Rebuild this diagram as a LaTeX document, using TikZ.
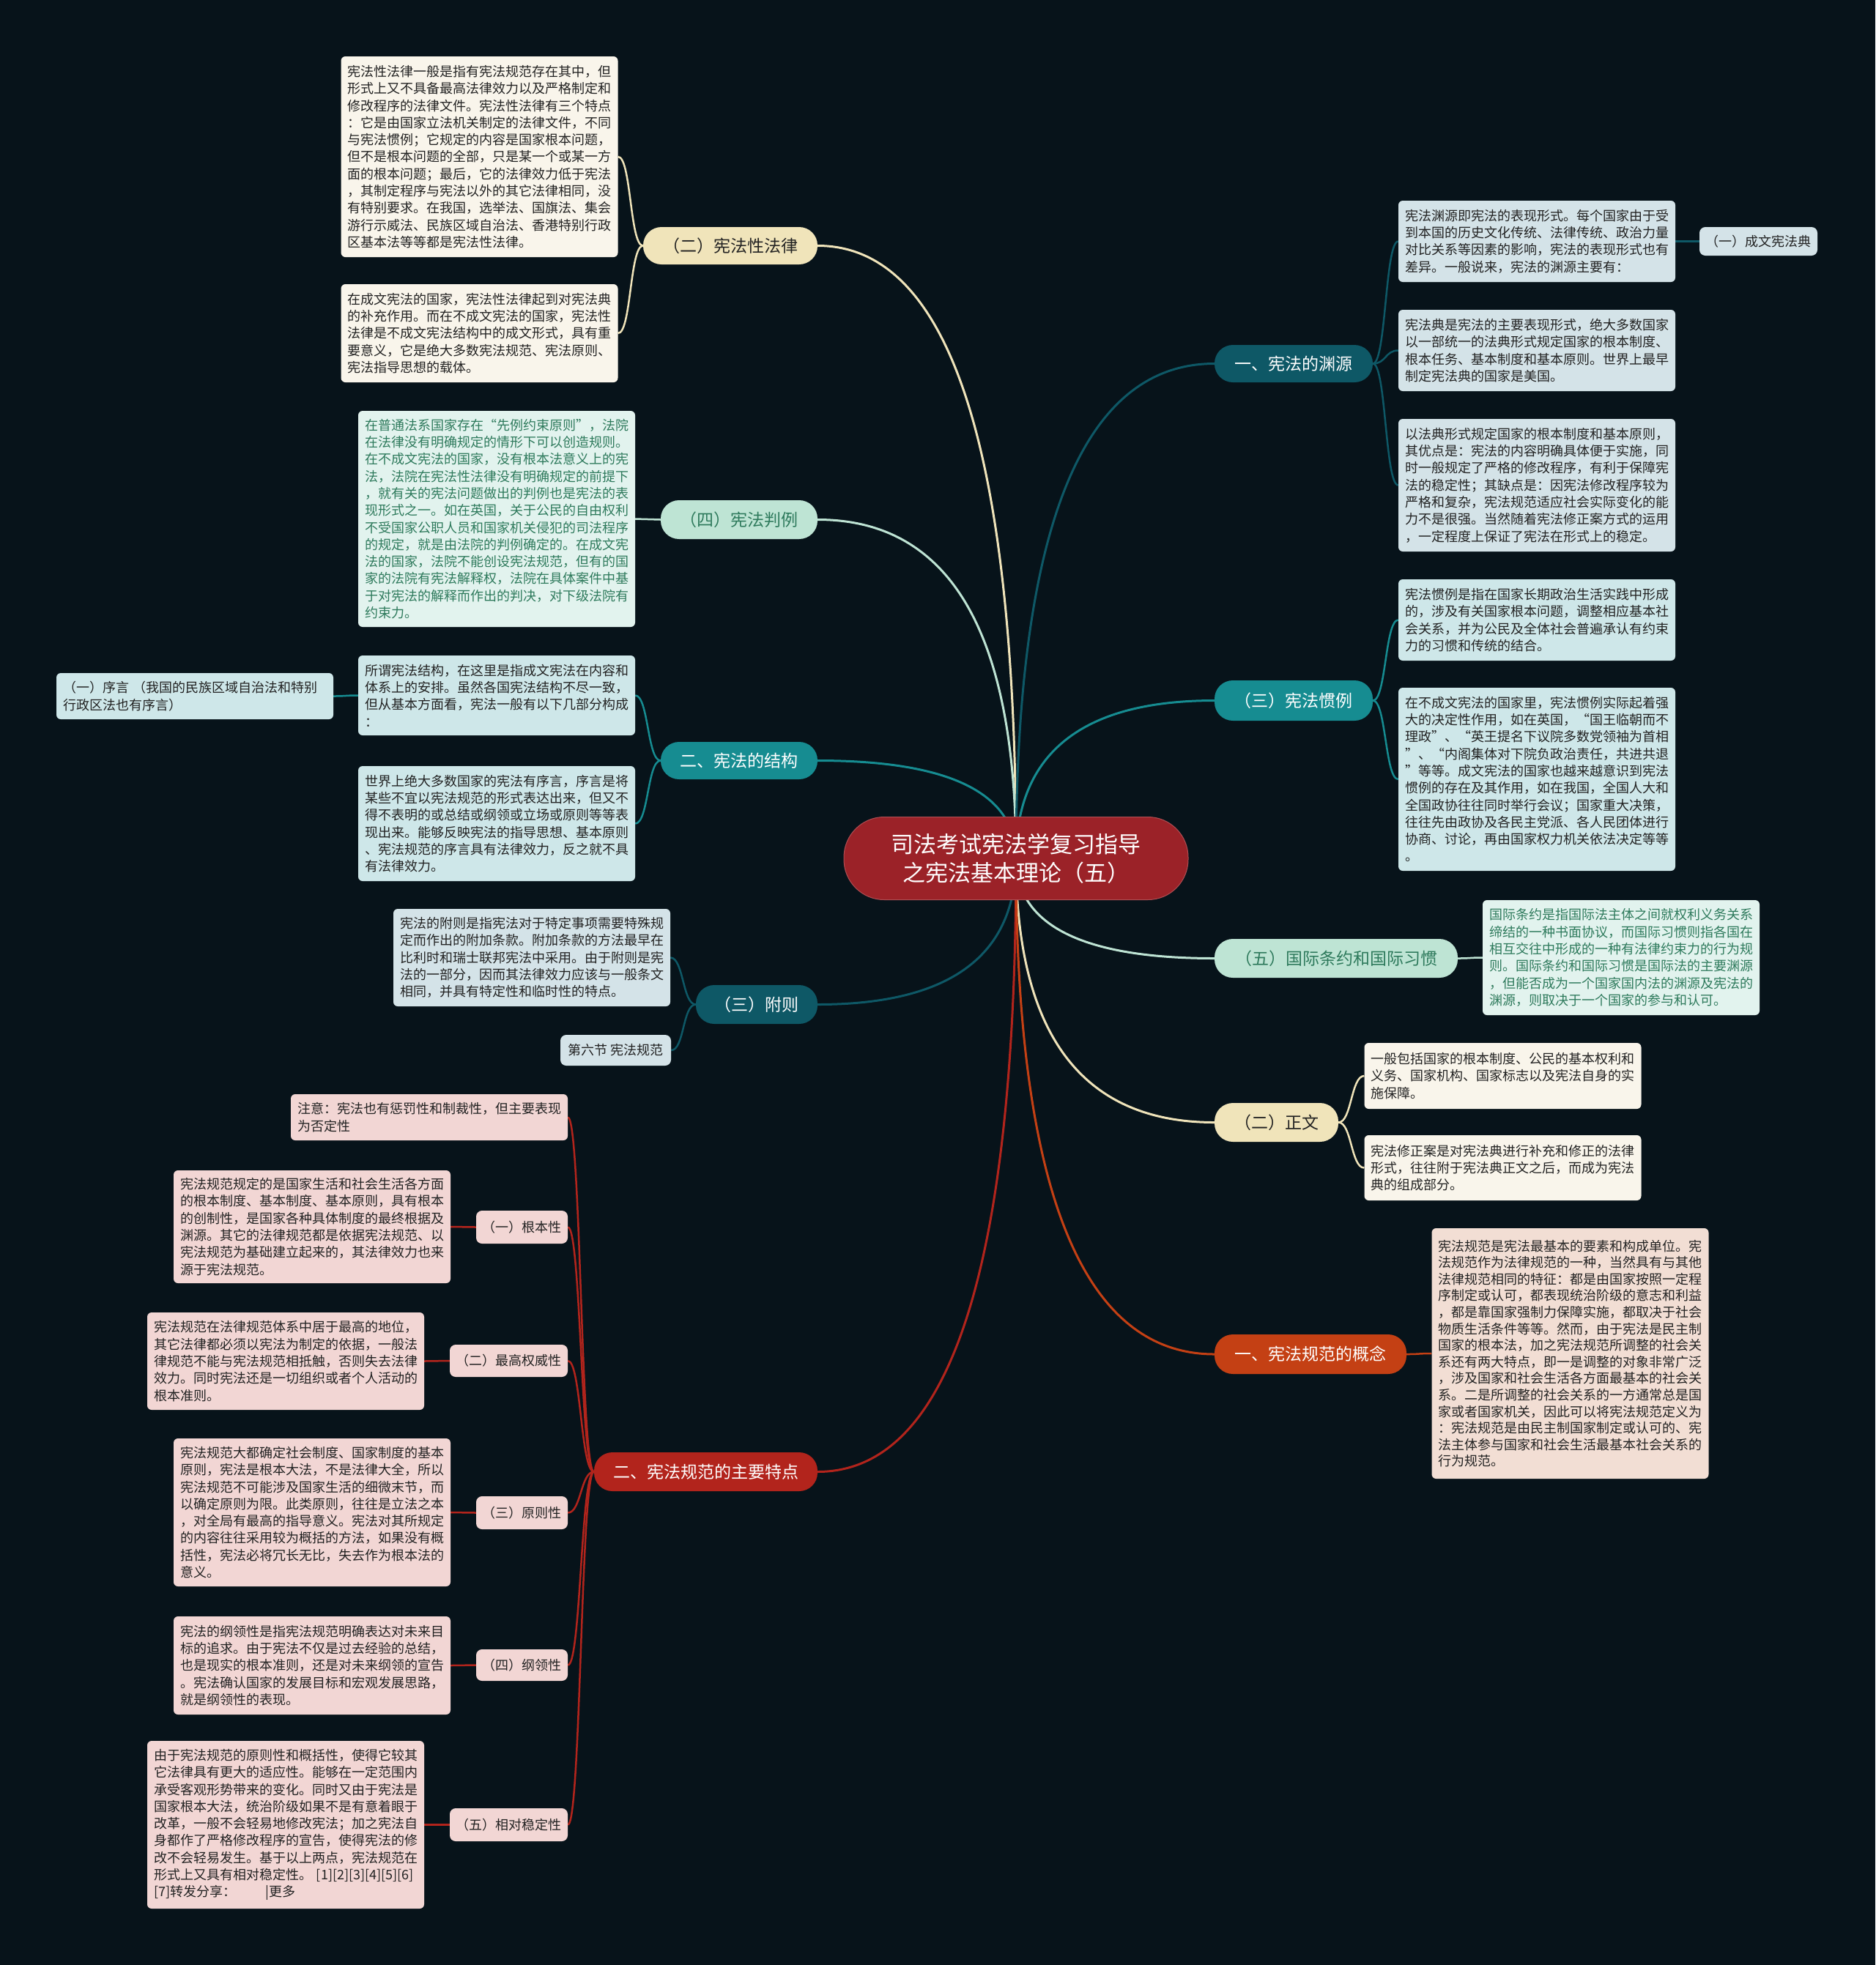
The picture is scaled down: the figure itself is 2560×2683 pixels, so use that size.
\documentclass[tikz,border=0pt]{standalone}
\usepackage{fontspec}
\setmainfont{Noto Sans CJK SC}
\usetikzlibrary{calc}
\pgfdeclarelayer{back}
\pgfdeclarelayer{lines}
\pgfsetlayers{back,lines,main}
\definecolor{bgc}{RGB}{7,19,26}
\definecolor{centc}{RGB}{155,34,40}
\definecolor{creamN}{RGB}{240,228,186}
\definecolor{creamD}{RGB}{249,245,235}
\definecolor{mintN}{RGB}{190,228,212}
\definecolor{mintD}{RGB}{226,243,238}
\definecolor{mintT}{RGB}{46,122,92}
\definecolor{tealN}{RGB}{22,140,145}
\definecolor{tealD}{RGB}{206,231,233}
\definecolor{dtealN}{RGB}{14,88,102}
\definecolor{dtealD}{RGB}{212,227,232}
\definecolor{redN}{RGB}{178,36,28}
\definecolor{redD}{RGB}{242,214,212}
\definecolor{oraN}{RGB}{196,64,20}
\definecolor{oraD}{RGB}{242,222,212}
\definecolor{darkT}{RGB}{34,34,34}
\tikzset{
  desc/.style={rounded corners=6pt, text width=360pt, align=left, inner xsep=9pt, inner ysep=9pt,
    font=\fontsize{18pt}{23.3pt}\selectfont, text=darkT, anchor=center},
  descK/.style={rounded corners=6pt, text width=360pt, align=left, inner xsep=9pt, inner ysep=9pt,
    font=\fontsize{18pt}{22.6pt}\selectfont, text=darkT, anchor=center},
  pill/.style={rounded corners=25pt, font=\fontsize{23pt}{28pt}\selectfont, inner sep=0pt, anchor=center, align=center},
  lab/.style={rounded corners=8pt, font=\fontsize{18pt}{22pt}\selectfont, inner sep=0pt, anchor=center, text=darkT},
  mlk/.style={line width=3pt},
  slk/.style={line width=2.5pt}
}
\newcommand\mlink[2]{\draw[mlk,#1] (c.center) .. controls ($(c.center)!0.667!(c.center|-#2)$) and ($(#2)!0.667!(c.center|-#2)$) .. (#2);}
\newcommand\llink[3]{\draw[slk,#1] (#2) .. controls +(-18,0) and +(18,0) .. (#3);}
\newcommand\rlink[3]{\draw[slk,#1] (#2) .. controls +(18,0) and +(-18,0) .. (#3);}
\begin{document}
\begin{tikzpicture}[x=1pt,y=-1pt]
\begin{pgfonlayer}{back}
\fill[bgc] (0,0) rectangle (2560,2683);
\end{pgfonlayer}
\useasboundingbox (0,0) rectangle (2560,2683);

% center
\node[fill=centc, draw=centc!80!white, line width=1pt, rounded corners=55pt, minimum width=470pt, minimum height=113pt, align=center, text=white, font=\fontsize{31pt}{39pt}\selectfont] (c) at (1387,1172) {司法考试宪法学复习指导\\之宪法基本理论（五）};

% ---------- left side ----------
\node[pill, fill=creamN, text=darkT, minimum width=238pt, minimum height=51pt] (P1) at (997,335.5) {（二）宪法性法律};
\node[desc, fill=creamD, minimum height=274pt] (A1) at (654.5,214) {宪法性法律一般是指有宪法规范存在其中，但\\形式上又不具备最高法律效力以及严格制定和\\修改程序的法律文件。宪法性法律有三个特点\\：它是由国家立法机关制定的法律文件，不同\\与宪法惯例；它规定的内容是国家根本问题，\\但不是根本问题的全部，只是某一个或某一方\\面的根本问题；最后，它的法律效力低于宪法\\，其制定程序与宪法以外的其它法律相同，没\\有特别要求。在我国，选举法、国旗法、集会\\游行示威法、民族区域自治法、香港特别行政\\区基本法等等都是宪法性法律。};
\node[desc, fill=creamD, minimum height=134pt] (A2) at (654.5,455) {在成文宪法的国家，宪法性法律起到对宪法典\\的补充作用。而在不成文宪法的国家，宪法性\\法律是不成文宪法结构中的成文形式，具有重\\要意义，它是绝大多数宪法规范、宪法原则、\\宪法指导思想的载体。};

\node[pill, fill=mintN, text=mintT, minimum width=214pt, minimum height=53pt] (P2) at (1009,709.5) {（四）宪法判例};
\node[desc, fill=mintD, text=mintT, minimum height=295pt] (D) at (678,708.5) {在普通法系国家存在“先例约束原则”，法院\\在法律没有明确规定的情形下可以创造规则。\\在不成文宪法的国家，没有根本法意义上的宪\\法，法院在宪法性法律没有明确规定的前提下\\，就有关的宪法问题做出的判例也是宪法的表\\现形式之一。如在英国，关于公民的自由权利\\不受国家公职人员和国家机关侵犯的司法程序\\的规定，就是由法院的判例确定的。在成文宪\\法的国家，法院不能创设宪法规范，但有的国\\家的法院有宪法解释权，法院在具体案件中基\\于对宪法的解释而作出的判决，对下级法院有\\约束力。};

\node[pill, fill=tealN, text=white, minimum width=214pt, minimum height=51pt] (P3) at (1009,1038.5) {二、宪法的结构};
\node[desc, fill=tealD, minimum height=109pt] (S1) at (678,949.5) {所谓宪法结构，在这里是指成文宪法在内容和\\体系上的安排。虽然各国宪法结构不尽一致，\\但从基本方面看，宪法一般有以下几部分构成\\：};
\node[desc, fill=tealD, minimum height=63pt] (XY) at (266,950.5) {（一）序言 （我国的民族区域自治法和特别\\行政区法也有序言）};
\node[desc, fill=tealD, minimum height=157pt] (S2) at (678,1124.5) {世界上绝大多数国家的宪法有序言，序言是将\\某些不宜以宪法规范的形式表达出来，但又不\\得不表明的或总结或纲领或立场或原则等等表\\现出来。能够反映宪法的指导思想、基本原则\\、宪法规范的序言具有法律效力，反之就不具\\有法律效力。};

\node[pill, fill=dtealN, text=white, minimum width=166pt, minimum height=53pt] (P4) at (1033,1371.5) {（三）附则};
\node[desc, fill=dtealD, minimum height=133pt] (F1) at (726,1307.5) {宪法的附则是指宪法对于特定事项需要特殊规\\定而作出的附加条款。附加条款的方法最早在\\比利时和瑞士联邦宪法中采用。由于附则是宪\\法的一部分，因而其法律效力应该与一般条文\\相同，并具有特定性和临时性的特点。};
\node[lab, fill=dtealD, minimum width=151pt, minimum height=42pt] (F2) at (840.5,1434) {第六节 宪法规范};

\node[pill, fill=redN, text=white, minimum width=305pt, minimum height=53pt] (P5) at (963.5,2009.5) {二、宪法规范的主要特点};
\node[desc, fill=redD, minimum height=63pt] (N0) at (586,1525.5) {注意：宪法也有惩罚性和制裁性，但主要表现\\为否定性};
\node[lab, fill=redD, minimum width=125pt, minimum height=45pt] (N1) at (712.5,1675.5) {（一）根本性};
\node[desc, fill=redD, minimum height=154pt] (N1d) at (426,1675) {宪法规范规定的是国家生活和社会生活各方面\\的根本制度、基本制度、基本原则，具有根本\\的创制性，是国家各种具体制度的最终根据及\\渊源。其它的法律规范都是依据宪法规范、以\\宪法规范为基础建立起来的，其法律效力也来\\源于宪法规范。};
\node[lab, fill=redD, minimum width=161pt, minimum height=44pt] (N2) at (694.5,1858) {（二）最高权威性};
\node[desc, fill=redD, minimum height=133pt] (N2d) at (390,1858.5) {宪法规范在法律规范体系中居于最高的地位，\\其它法律都必须以宪法为制定的依据，一般法\\律规范不能与宪法规范相抵触，否则失去法律\\效力。同时宪法还是一切组织或者个人活动的\\根本准则。};
\node[lab, fill=redD, minimum width=125pt, minimum height=45pt] (N3) at (712.5,2065.5) {（三）原则性};
\node[desc, fill=redD, minimum height=202pt] (N3d) at (426,2065) {宪法规范大都确定社会制度、国家制度的基本\\原则，宪法是根本大法，不是法律大全，所以\\宪法规范不可能涉及国家生活的细微末节，而\\以确定原则为限。此类原则，往往是立法之本\\，对全局有最高的指导意义。宪法对其所规定\\的内容往往采用较为概括的方法，如果没有概\\括性，宪法必将冗长无比，失去作为根本法的\\意义。};
\node[lab, fill=redD, minimum width=125pt, minimum height=43pt] (N4) at (712.5,2273.5) {（四）纲领性};
\node[desc, fill=redD, minimum height=134pt] (N4d) at (426,2274) {宪法的纲领性是指宪法规范明确表达对未来目\\标的追求。由于宪法不仅是过去经验的总结，\\也是现实的根本准则，还是对未来纲领的宣告\\。宪法确认国家的发展目标和宏观发展思路，\\就是纲领性的表现。};
\node[lab, fill=redD, minimum width=161pt, minimum height=45pt] (N5) at (694.5,2491.5) {（五）相对稳定性};
\node[desc, fill=redD, minimum height=229pt] (N5d) at (390,2491.5) {由于宪法规范的原则性和概括性，使得它较其\\它法律具有更大的适应性。能够在一定范围内\\承受客观形势带来的变化。同时又由于宪法是\\国家根本大法，统治阶级如果不是有意着眼于\\改革，一般不会轻易地修改宪法；加之宪法自\\身都作了严格修改程序的宣告，使得宪法的修\\改不会轻易发生。基于以上两点，宪法规范在\\形式上又具有相对稳定性。 {[1][2][3][4][5][6]}\\{}{[7]转发分享：}\hspace{40pt}|更多};

% ---------- right side ----------
\node[pill, fill=dtealN, text=white, minimum width=216pt, minimum height=51pt] (Q1) at (1766,496.5) {一、宪法的渊源};
\node[desc, fill=dtealD, minimum height=111pt] (R1) at (2098,329.5) {宪法渊源即宪法的表现形式。每个国家由于受\\到本国的历史文化传统、法律传统、政治力量\\对比关系等因素的影响，宪法的表现形式也有\\差异。一般说来，宪法的渊源主要有：};
\node[lab, fill=dtealD, minimum width=161pt, minimum height=39pt] (W) at (2400.5,329.5) {（一）成文宪法典};
\node[desc, fill=dtealD, minimum height=111pt] (R2) at (2098,478.5) {宪法典是宪法的主要表现形式，绝大多数国家\\以一部统一的法典形式规定国家的根本制度、\\根本任务、基本制度和基本原则。世界上最早\\制定宪法典的国家是美国。};
\node[desc, fill=dtealD, minimum height=181pt] (R3) at (2098,662.5) {以法典形式规定国家的根本制度和基本原则，\\其优点是：宪法的内容明确具体便于实施，同\\时一般规定了严格的修改程序，有利于保障宪\\法的稳定性；其缺点是：因宪法修改程序较为\\严格和复杂，宪法规范适应社会实际变化的能\\力不是很强。当然随着宪法修正案方式的运用\\，一定程度上保证了宪法在形式上的稳定。};

\node[pill, fill=tealN, text=white, minimum width=216pt, minimum height=55pt] (Q2) at (1766,956.5) {（三）宪法惯例};
\node[desc, fill=tealD, minimum height=111pt] (G1) at (2098,846.5) {宪法惯例是指在国家长期政治生活实践中形成\\的，涉及有关国家根本问题，调整相应基本社\\会关系，并为公民及全体社会普遍承认有约束\\力的习惯和传统的结合。};
\node[desc, fill=tealD, minimum height=250pt] (G2) at (2098,1064) {在不成文宪法的国家里，宪法惯例实际起着强\\大的决定性作用，如在英国，“国王临朝而不\\理政”、“英王提名下议院多数党领袖为首相\\”、“内阁集体对下院负政治责任，共进共退\\”等等。成文宪法的国家也越来越意识到宪法\\惯例的存在及其作用，如在我国，全国人大和\\全国政协往往同时举行会议；国家重大决策，\\往往先由政协及各民主党派、各人民团体进行\\协商、讨论，再由国家权力机关依法决定等等\\。};

\node[pill, fill=mintN, text=mintT, minimum width=332pt, minimum height=53pt] (Q3) at (1824,1308.5) {（五）国际条约和国际习惯};
\node[desc, fill=mintD, text=mintT, minimum height=157pt] (I1) at (2213,1307.5) {国际条约是指国际法主体之间就权利义务关系\\缔结的一种书面协议，而国际习惯则指各国在\\相互交往中形成的一种有法律约束力的行为规\\则。国际条约和国际习惯是国际法的主要渊源\\，但能否成为一个国家国内法的渊源及宪法的\\渊源，则取决于一个国家的参与和认可。};

\node[pill, fill=creamN, text=darkT, minimum width=169pt, minimum height=53pt] (Q4) at (1742.5,1532.5) {（二）正文};
\node[desc, fill=creamD, minimum height=90pt] (Z1) at (2051.5,1469) {一般包括国家的根本制度、公民的基本权利和\\义务、国家机构、国家标志以及宪法自身的实\\施保障。};
\node[desc, fill=creamD, minimum height=89pt] (Z2) at (2051.5,1594.5) {宪法修正案是对宪法典进行补充和修正的法律\\形式，往往附于宪法典正文之后，而成为宪法\\典的组成部分。};

\node[pill, fill=oraN, text=white, minimum width=262pt, minimum height=54pt] (Q5) at (1789,1849) {一、宪法规范的概念};
\node[descK, fill=oraD, minimum height=342pt] (K1) at (2143.5,1848) {宪法规范是宪法最基本的要素和构成单位。宪\\法规范作为法律规范的一种，当然具有与其他\\法律规范相同的特征：都是由国家按照一定程\\序制定或认可，都表现统治阶级的意志和利益\\，都是靠国家强制力保障实施，都取决于社会\\物质生活条件等等。然而，由于宪法是民主制\\国家的根本法，加之宪法规范所调整的社会关\\系还有两大特点，即一是调整的对象非常广泛\\，涉及国家和社会生活各方面最基本的社会关\\系。二是所调整的社会关系的一方通常总是国\\家或者国家机关，因此可以将宪法规范定义为\\：宪法规范是由民主制国家制定或认可的、宪\\法主体参与国家和社会生活最基本社会关系的\\行为规范。};

% ---------- connectors ----------
\begin{pgfonlayer}{lines}
\mlink{creamN}{P1.east}
\mlink{mintN}{P2.east}
\mlink{tealN}{P3.east}
\mlink{dtealN}{P4.east}
\mlink{redN}{P5.east}
\mlink{dtealN}{Q1.west}
\mlink{tealN}{Q2.west}
\mlink{mintN}{Q3.west}
\mlink{creamN}{Q4.west}
\mlink{oraN}{Q5.west}

\llink{creamN}{P1.west}{A1.east}
\llink{creamN}{P1.west}{A2.east}
\llink{mintN}{P2.west}{D.east}
\llink{tealN}{P3.west}{S1.east}
\llink{tealN}{P3.west}{S2.east}
\llink{tealN}{S1.west}{XY.east}
\llink{dtealN}{P4.west}{F1.east}
\llink{dtealN}{P4.west}{F2.east}
\llink{redN}{P5.west}{N0.east}
\llink{redN}{P5.west}{N1.east}
\llink{redN}{P5.west}{N2.east}
\llink{redN}{P5.west}{N3.east}
\llink{redN}{P5.west}{N4.east}
\llink{redN}{P5.west}{N5.east}
\llink{redN}{N1.west}{N1d.east}
\llink{redN}{N2.west}{N2d.east}
\llink{redN}{N3.west}{N3d.east}
\llink{redN}{N4.west}{N4d.east}
\llink{redN}{N5.west}{N5d.east}

\rlink{dtealN}{Q1.east}{R1.west}
\rlink{dtealN}{Q1.east}{R2.west}
\rlink{dtealN}{Q1.east}{R3.west}
\rlink{dtealN}{R1.east}{W.west}
\rlink{tealN}{Q2.east}{G1.west}
\rlink{tealN}{Q2.east}{G2.west}
\rlink{mintN}{Q3.east}{I1.west}
\rlink{creamN}{Q4.east}{Z1.west}
\rlink{creamN}{Q4.east}{Z2.west}
\rlink{oraN}{Q5.east}{K1.west}
\end{pgfonlayer}
\end{tikzpicture}
\end{document}
